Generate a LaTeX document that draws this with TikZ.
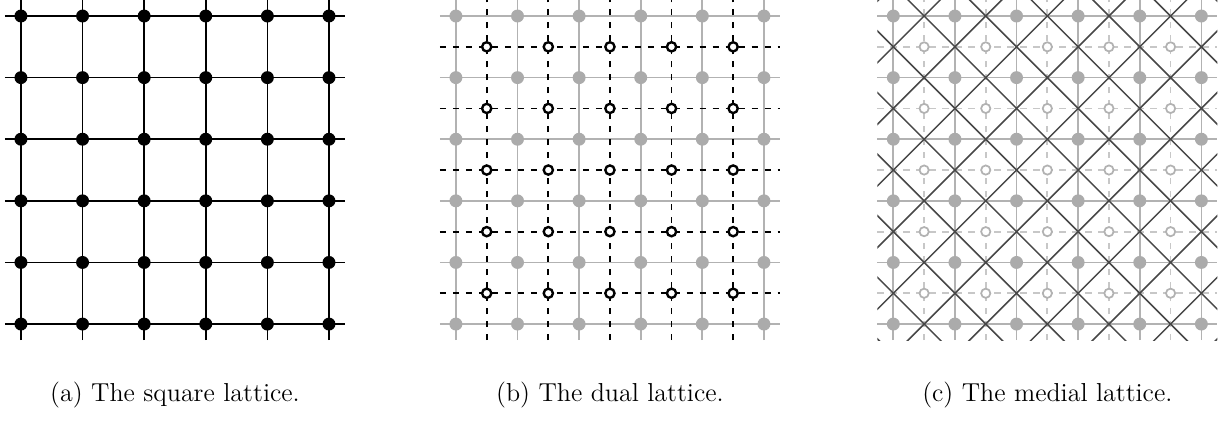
\documentclass[tikz,border=0pt]{standalone}
\usepackage{amsmath,amssymb}
\usepackage{xcolor}
\usepackage{tikz}
\usetikzlibrary{backgrounds}

\begin{document}
\begin{tikzpicture}[
  font=\large,
  site/.style={circle, fill=black, inner sep=0pt, minimum size=0.21cm},
  ghost/.style={circle, fill=black!33, inner sep=0pt, minimum size=0.21cm},
  dualsite/.style={circle, draw=black, fill=white, line width=1.1pt, inner sep=0pt, minimum size=0.15cm},
  ghostdual/.style={dualsite, draw=black!30, line width=0.8pt},
  bond/.style={line width=0.8pt, shorten <=-0.26cm, shorten >=-0.26cm},
  ghostbond/.style={bond, draw=black!30},
  dualbond/.style={line width=0.8pt, dashed, shorten <=-0.76cm, shorten >=-0.76cm},
  medial/.style={line width=0.7pt, draw=black!72}
]
\useasboundingbox (-0.34,-1.575) rectangle (19.43,5.26);

% (a) square lattice
\foreach \i in {0,...,5}
  \foreach \j in {0,...,5}
    \node[site] (a-\i-\j) at (\i,\j) {};
\begin{scope}[on background layer]
  \foreach \k in {0,...,5} {
    \draw[bond] (a-0-\k.center) -- (a-5-\k.center);
    \draw[bond] (a-\k-0.center) -- (a-\k-5.center);
  }
\end{scope}
\node (capa) at (2.5,-1.15) {(a) The square lattice.};

% (b) dual lattice
\begin{scope}[xshift=7.06cm]
  \foreach \i in {0,...,5}
    \foreach \j in {0,...,5}
      \node[ghost] (b-\i-\j) at (\i,\j) {};
  \foreach \i in {0,...,4}
    \foreach \j in {0,...,4}
      \node[dualsite] (bd-\i-\j) at (\i+0.5,\j+0.5) {};
  \begin{scope}[on background layer]
    \foreach \k in {0,...,5} {
      \draw[ghostbond] (b-0-\k.center) -- (b-5-\k.center);
      \draw[ghostbond] (b-\k-0.center) -- (b-\k-5.center);
    }
    \foreach \k in {0,...,4} {
      \draw[dualbond] (bd-0-\k.center) -- (bd-4-\k.center);
      \draw[dualbond] (bd-\k-0.center) -- (bd-\k-4.center);
    }
  \end{scope}
  \node (capb) at (2.5,-1.15) {(b) The dual lattice.};
\end{scope}

% (c) medial lattice
\begin{scope}[xshift=14.16cm]
  \foreach \i in {0,...,5}
    \foreach \j in {0,...,5}
      \node[ghost] (c-\i-\j) at (\i,\j) {};
  \foreach \i in {0,...,4}
    \foreach \j in {0,...,4}
      \node[ghostdual] (cd-\i-\j) at (\i+0.5,\j+0.5) {};
  \begin{scope}[on background layer]
    \foreach \k in {0,...,5} {
      \draw[ghostbond] (c-0-\k.center) -- (c-5-\k.center);
      \draw[ghostbond] (c-\k-0.center) -- (c-\k-5.center);
    }
    \foreach \k in {0,...,4} {
      \draw[dualbond, draw=black!22] (cd-0-\k.center) -- (cd-4-\k.center);
      \draw[dualbond, draw=black!22] (cd-\k-0.center) -- (cd-\k-4.center);
    }
    \begin{scope}
      \clip (-0.26,-0.26) rectangle (5.26,5.26);
      \foreach \c in {-0.5,0.5,...,10.5}
        \draw[medial] (\c+1,-1) -- (\c-6,6);
      \foreach \c in {-5.5,-4.5,...,5.5}
        \draw[medial] (\c-1,-1) -- (\c+6,6);
    \end{scope}
  \end{scope}
  \node (capc) at (2.5,-1.15) {(c) The medial lattice.};
\end{scope}
\end{tikzpicture}
\end{document}
